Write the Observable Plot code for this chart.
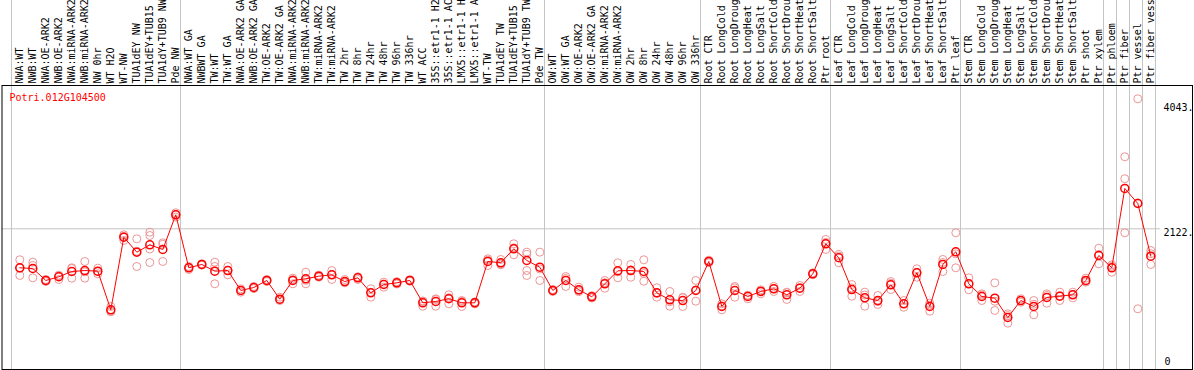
<!DOCTYPE html>
<html><head><meta charset="utf-8">
<script src="https://cdn.jsdelivr.net/npm/d3@7"></script>
<script src="https://cdn.jsdelivr.net/npm/@observablehq/plot@0.6"></script>
<style>
html,body{margin:0;padding:0;background:#fff;}
svg{display:block;}
</style></head><body><div id="chart"></div>
<script>
const title = "Potri.012G104500";
const samples = [
  "NWA:WT","NWB:WT","NWA:OE-ARK2","NWB:OE-ARK2","NWA:miRNA-ARK2","NWB:miRNA-ARK2","NW 0hr","WT H2O","WT-NW","TUA1dEY NW","TUA1dEY+TUB15","TUA1dY+TUB9 NW","Pde NW",
  "NWA:WT GA","NWBWT GA","TW:WT","TW:WT GA","NWA:OE-ARK2 GA","NWB:OE-ARK2 GA","TW:OE-ARK2","TW:OE-ARK2 GA","NWA:miRNA-ARK2","NWB:miRNA-ARK2","TW:miRNA-ARK2","TW:miRNA-ARK2","TW 2hr","TW 8hr","TW 24hr","TW 48hr","TW 96hr","TW 336hr","WT ACC","35S::etr1-1 H2","35S::etr1-1 AC","LMX5::etr1-1 H","LMX5::etr1-1 A","WT-TW","TUA1dEY TW","TUA1dEY+TUB15","TUA1dY+TUB9 TW","Pde TW",
  "OW:WT","OW:WT GA","OW:OE-ARK2","OW:OE-ARK2 GA","OW:miRNA-ARK2","OW:miRNA-ARK2","OW 2hr","OW 8hr","OW 24hr","OW 48hr","OW 96hr","OW 336hr",
  "Root CTR","Root LongCold","Root LongDroug","Root LongHeat","Root LongSalt","Root ShortCold","Root ShortDrou","Root ShortHeat","Root ShortSalt","Ptr root",
  "Leaf CTR","Leaf LongCold","Leaf LongDroug","Leaf LongHeat","Leaf LongSalt","Leaf ShortCold","Leaf ShortDrou","Leaf ShortHeat","Leaf ShortSalt","Ptr leaf",
  "Stem CTR","Stem LongCold","Stem LongDroug","Stem LongHeat","Stem LongSalt","Stem ShortCold","Stem ShortDrou","Stem ShortHeat","Stem ShortSalt","Ptr shoot","Ptr xylem",
  "Ptr phloem","Ptr fiber","Ptr vessel","Ptr fiber vess"
];
const groupSizes = [13, 28, 12, 10, 10, 11, 1, 1, 1, 1];
const means = [
  1523,1512,1328,1385,1466,1481,1471,877,1993,1763,1876,1804,2337,
  1523,1574,1471,1481,1174,1220,1328,1040,1328,1354,1394,1415,1312,1369,1139,1266,1292,1328,985,1005,1047,985,985,1620,1600,1815,1635,1532,
  1174,1328,1185,1077,1277,1477,1481,1466,1139,1031,1020,1174,
  1620,928,1174,1082,1159,1200,1108,1209,1431,1892,
  1677,1189,1062,1020,1262,970,1446,928,1574,1769,
  1277,1082,1056,759,1020,928,1067,1087,1108,1328,1712,
  1523,2742,2511,1701
];
const replicates = [
  [1646,1518,1405],[1609,1558,1369],[1343,1329,1312],[1405,1407,1343],[1523,1512,1363],[1620,1460,1363],[1517,1465,1431],[928,847,856],[2030,2006,1943],[1968,1778,1543],[2070,2019,1811,1604],[1907,1885,1620],[2368,2342,2301],
  [1543,1529,1497],[1584,1574,1564],[1609,1543,1277],[1543,1485,1415],[1200,1174,1148],[1236,1220,1204],[1343,1329,1312],[1071,1029,1020],[1343,1364,1277],[1455,1330,1277],[1410,1394,1378],[1481,1421,1343],[1343,1301,1292],[1378,1386,1343],[1200,1146,1071],[1302,1271,1225],[1310,1292,1274],[1340,1328,1316],[1010,1012,933],[1036,1046,933],[1108,1063,970],[1020,1007,928],[1000,985,970],[1661,1641,1558],[1651,1580,1569],[1892,1830,1723],[1763,1727,1481,1405],[1763,1505,1328],
  [1190,1174,1158],[1389,1359,1236],[1225,1174,1156],[1095,1077,1059],[1328,1294,1209],[1600,1462,1369],[1574,1491,1378],[1646,1435,1317],[1216,1130,1071],[1159,1001,933],[1062,1070,928],[1328,1184,1010],
  [1640,1620,1600],[970,937,877],[1236,1215,1071],[1099,1100,1047],[1185,1169,1123],[1236,1205,1159],[1148,1140,1036],[1251,1217,1159],[1445,1431,1417],[1958,1914,1804],
  [1727,1704,1600],[1266,1214,1087],[1148,1105,933],[1097,1004,959],[1312,1285,1189],[1020,973,917],[1508,1452,1378],[979,949,856],[1651,1605,1466],[2061,1738,1523],
  [1369,1277,1185],[1123,1103,1020],[1292,1009,867],[816,789,672],[1047,1019,994],[1020,963,801],[1123,1099,979],[1148,1093,1020],[1148,1114,1062],[1363,1319,1302],[1824,1728,1584],
  [1569,1545,1455],[3229,2891,2061],[4120,2520,893],[1789,1740,1574]
];
const yTicks = [0, 2122, 4043];
const yTickLabels = ["0", "2122.", "4043."];

const repData = replicates.flatMap((r, i) => r.map(v => ({i, v})));
const meanData = means.map((v, i) => ({i, v}));
const bounds = [0];
groupSizes.forEach(s => bounds.push(bounds[bounds.length - 1] + s));
const tickData = yTicks.map((v, i) => ({v, label: yTickLabels[i]}));

const plot = Plot.plot({
  width: 1194, height: 370,
  marginTop: 85, marginBottom: 3.6, marginLeft: 11, marginRight: 39,
  x: {domain: [-0.5, samples.length - 0.5], axis: null},
  y: {domain: [0, 4324], axis: null},
  style: {fontFamily: "'DejaVu Sans Mono', monospace", fontSize: "10px", background: "#fff", color: "#000"},
  marks: [
    Plot.ruleX(bounds, {x: d => d - 0.5, stroke: "#c4c4c4", strokeOpacity: 1, insetTop: -85, insetBottom: -2.6}),
    Plot.ruleY([yTicks[1]], {y: d => d, stroke: "#c4c4c4", strokeOpacity: 1, insetLeft: -9.5, insetRight: -5}),
    Plot.frame({stroke: "#000", insetLeft: -9.5, insetRight: -37, insetBottom: -2.6}),
    Plot.dot(repData, {x: "i", y: "v", r: 4, stroke: "#ec9595", strokeWidth: 1, dx: 1.8}),
    Plot.line(meanData, {x: "i", y: "v", stroke: "#ff0000", strokeWidth: 1, dx: 1.8}),
    Plot.dot(meanData, {x: "i", y: "v", r: 4, stroke: "#ff0000", strokeWidth: 1.5, dx: 1.8}),
    Plot.text(samples, {x: (d, i) => i, text: d => d, frameAnchor: "top", rotate: -90, textAnchor: "start", lineAnchor: "middle", dx: 1.8, dy: -2, fill: "#000"}),
    Plot.text([title], {text: d => d, frameAnchor: "top-left", dx: -2, dy: 12.3, textAnchor: "start", lineAnchor: "middle", fill: "#ff0000"}),
    Plot.text(tickData.slice(1), {y: "v", text: "label", frameAnchor: "right", dx: 8, dy: 4, textAnchor: "start", lineAnchor: "middle", fill: "#000"}),
    Plot.text(tickData.slice(0, 1), {y: "v", text: "label", frameAnchor: "right", dx: 9, dy: -4.7, textAnchor: "start", lineAnchor: "middle", fill: "#000"})
  ]
});
document.getElementById("chart").appendChild(plot);
</script>
</body></html>
